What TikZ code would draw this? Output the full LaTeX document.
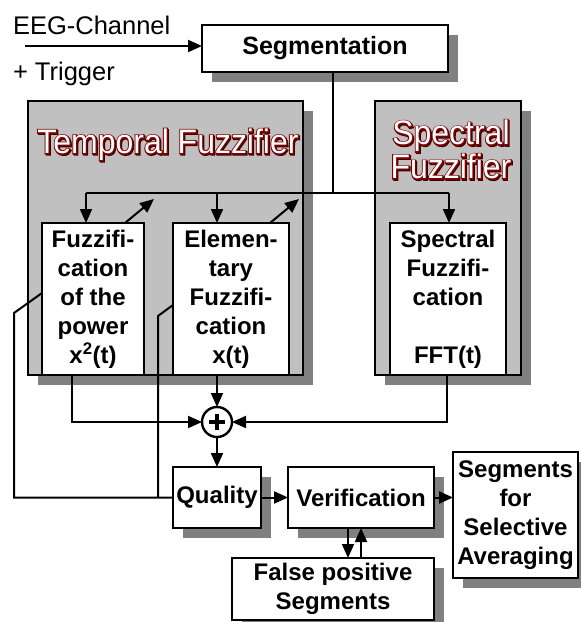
\documentclass[tikz,border=0pt]{standalone}
\usepackage{fontspec}
\setmainfont{Liberation Sans}
\usetikzlibrary{arrows.meta,shadows,calc}
\definecolor{panelgray}{HTML}{C0C0C0}
\definecolor{shadegray}{HTML}{808080}
\definecolor{titlered}{HTML}{800000}
\definecolor{titledark}{HTML}{400000}
\newcommand\boxfont{\bfseries\fontsize{24}{29}\selectfont}
\newcommand\plainfont{\fontsize{25.5}{29}\selectfont}
% panel headings: slightly condensed large type
\newcommand\paneltitle[1]{\scalebox{0.94}[1]{\fontsize{34}{31}\selectfont\begin{tabular}{@{}c@{}}#1\end{tabular}}}
% white lettering over a stroked dark red rim, with a small drop to the lower right
\newcommand\strokedtext[3]{{\color{#1}\special{pdf:literal direct #2 RG 2 Tr 2.2 w}#3\special{pdf:literal direct 0 Tr 0.4 w}}}
\newcommand\rimmed[1]{%
  \rlap{\kern1.1pt\raisebox{-1.1pt}{\strokedtext{titledark}{0.25 0 0}{#1}}}%
  \rlap{\strokedtext{titlered}{0.5 0 0}{#1}}%
  {\color{white}#1}}

\begin{document}
\begin{tikzpicture}[x=1pt,y=-1pt,
  every node/.style={outer sep=0pt, inner sep=0pt},
  shadowed/.style={drop shadow={shadow xshift=10pt, shadow yshift=-10pt, opacity=1, fill=shadegray}},
  box/.style={draw, line width=2.4pt, fill=white, font=\boxfont, align=center},
  panel/.style={draw, line width=2.4pt, fill=panelgray, shadowed},
  conn/.style={line width=2pt},
  arr/.style={conn, -{Triangle[length=14pt,width=12pt]}},
]
\useasboundingbox (0,0) rectangle (581,622);
\fill[white] (0,0) rectangle (581,622);

% input text
\node[anchor=base west, font=\plainfont] (eegtxt) at (13,34) {EEG-Channel};
\node[anchor=base west, font=\plainfont] (trigtxt) at (13,80) {+ Trigger};

% segmentation block
\node[box, shadowed, minimum width=246pt, minimum height=47pt] (seg) at (325,48.5) {\fontsize{25}{29}\selectfont Segmentation};

% the two fuzzifier panels
\node[panel, minimum width=275pt, minimum height=274pt] (tpanel) at (165.5,238) {};
\node[panel, minimum width=146pt, minimum height=274pt] (spanel) at (448,238) {};
\node[anchor=base] (ttemp) at (168,152) {\rimmed{\paneltitle{Temporal Fuzzifier}}};
\node[anchor=north] (tspec) at (451,120) {\rimmed{\paneltitle{Spectral\\Fuzzifier}}};

% fuzzification blocks
\node[box, minimum width=102pt, minimum height=152pt] (pow) at (93,299) {Fuzzifi-\\cation\\of the\\power\\x\textsuperscript{2}(t)};
\node[box, minimum width=116pt, minimum height=152pt] (elem) at (231,299) {Elemen-\\tary\\Fuzzifi-\\cation\\x(t)};
\node[box, minimum width=116pt, minimum height=152pt] (spec) at (448,299) {Spectral\\Fuzzifi-\\cation\\[29pt]FFT(t)};

% summation point
\node[draw, circle, line width=2.4pt, fill=white, minimum size=30pt] (sum) at (217,422) {};
\draw[line width=3.4pt] ($(sum.center)+(-8,0)$) -- ($(sum.center)+(8,0)$);
\draw[line width=3.4pt] ($(sum.center)+(0,-8)$) -- ($(sum.center)+(0,8)$);

% lower chain
\node[box, shadowed, minimum width=88pt, minimum height=61pt] (qual) at (217,497.5) {Quality};
\node[box, shadowed, minimum width=146pt, minimum height=61pt] (verif) at (361,497.5) {Verification};
\node[box, shadowed, minimum width=202pt, minimum height=62pt] (fp) at (333,589) {False positive\\Segments};
\node[box, shadowed, minimum width=125pt, minimum height=126pt] (sel) at (515.5,515) {Segments\\for\\Selective\\Averaging};

% input arrow
\coordinate (eegin) at (25,46);
\draw[arr] (eegin) -- (eegin -| seg.west);

% distribution of the segments
\coordinate (split) at (333,193);
\coordinate (j1) at (86,193);
\coordinate (j2) at (217,193);
\coordinate (j3) at (449,193);
\draw[conn] (split |- seg.south) -- (split);
\draw[conn] (j1) -- (j3);
\draw[arr] (j1) -- (j1 |- pow.north);
\draw[arr] (j2) -- (j2 |- elem.north);
\draw[arr] (j3) -- (j3 |- spec.north);

% adaptation arrows
\draw[arr] ($(pow.north east)+(-19,0)$) -- ++(29,-24);
\draw[arr] ($(elem.north east)+(-19,0)$) -- ++(29,-24);

% feedback lines into the quality block
\coordinate (pl) at (14,313);
\coordinate (el) at (158,316);
\draw[conn] ($(pow.north west)+(0,70)$) -- (pl) -- (pl |- qual.west) -- (qual.west);
\draw[conn] ($(elem.north west)+(0,82)$) -- (el) -- (el |- qual.west);

% summation inputs and output
\coordinate (pd) at (72,422);
\coordinate (sd) at (447,422);
\draw[arr] (pd |- pow.south) -- (pd) -- (sum.west);
\draw[arr] (sum.north |- elem.south) -- (sum.north);
\draw[arr] (sd |- spec.south) -- (sd) -- (sum.east);
\draw[arr] (sum.south) -- (qual.north);

% verification
\draw[arr] (qual.east) -- (verif.west);
\draw[arr] (verif.east) -- (verif.east -| sel.west);
\coordinate (vd) at (348,540);
\coordinate (vu) at (361,540);
\draw[arr] (vd |- verif.south) -- (vd |- fp.north);
\draw[arr] (vu |- fp.north) -- (vu |- verif.south);
\end{tikzpicture}
\end{document}
